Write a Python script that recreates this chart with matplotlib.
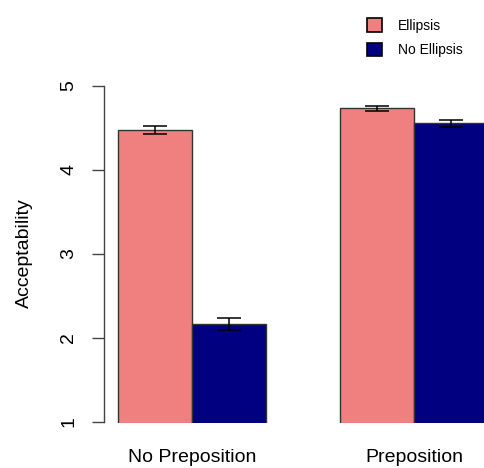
import matplotlib
matplotlib.use("Agg")
import matplotlib.pyplot as plt
from matplotlib.patches import Patch

# acceptability means and standard errors
groups = ["No Preposition", "Preposition"]
conditions = ["Ellipsis", "No Ellipsis"]
means_ellipsis = [4.475, 4.73]
means_no_ellipsis = [2.165, 4.553]
se_ellipsis = [0.05, 0.034]
se_no_ellipsis = [0.072, 0.044]
colors = ["lightcoral", "navy"]
yticks = [1, 2, 3, 4, 5]

plt.rcParams["font.family"] = ["Liberation Sans", "DejaVu Sans"]

W, H = 484, 468
fig = plt.figure(figsize=(W / 100, H / 100), dpi=100)
# axes box in pixels: y spine at x=104, bars bottom at y=423
ax = fig.add_axes([104 / W, (H - 423) / H, (W - 104) / W, (423 - 60) / H])

px_per_unit = 84.0
ybot = 1 - (423 - 421.7) / px_per_unit
ytop = 5 + (85.7 - 60) / px_per_unit

lefts_e = [0, 3]
lefts_n = [1, 4]
ax.bar([l + 0.5 for l in lefts_e], means_ellipsis, width=1, bottom=0,
       color=colors[0], edgecolor="#333333", linewidth=1, zorder=2)
ax.bar([l + 0.5 for l in lefts_n], means_no_ellipsis, width=1, bottom=0,
       color=colors[1], edgecolor="#333333", linewidth=1, zorder=2)
ax.errorbar([l + 0.5 for l in lefts_e], means_ellipsis, yerr=se_ellipsis, fmt="none",
            ecolor="black", elinewidth=1.1, capsize=8.6, capthick=1.1, zorder=3)
ax.errorbar([l + 0.5 for l in lefts_n], means_no_ellipsis, yerr=se_no_ellipsis, fmt="none",
            ecolor="black", elinewidth=1.1, capsize=8.6, capthick=1.1, zorder=3)

ax.set_xlim(-14 / 74, (484 - 118) / 74)
ax.set_ylim(ybot, ytop)

for s in ["top", "right", "bottom"]:
    ax.spines[s].set_visible(False)
ax.spines["left"].set_bounds(1, 5)
ax.spines["left"].set_color("#444444")
ax.spines["left"].set_linewidth(1)

ax.set_yticks(yticks)
ax.set_yticklabels([str(t) for t in yticks])
ax.tick_params(axis="y", length=8.6, width=1, color="#444444", pad=10.5,
               labelsize=14, labelrotation=90)
for lab in ax.get_yticklabels():
    lab.set_va("center")

ax.set_xticks([1, 4])
ax.set_xticklabels(groups)
ax.tick_params(axis="x", length=0, pad=19, labelsize=14)

fig.text(24 / W, 1 - 253 / H, "Acceptability", rotation=90, ha="center", va="center",
         fontsize=14)

handles = [Patch(facecolor=c, edgecolor="black", linewidth=1.2) for c in colors]
fig.legend(handles, conditions, loc="upper left", bbox_to_anchor=(367 / W, 1 - 18 / H),
           frameon=False, fontsize=10, handlelength=1.1, handleheight=1.15,
           handletextpad=1.15, labelspacing=0.72, borderpad=0, borderaxespad=0)

fig.savefig("out.png", dpi=100)
